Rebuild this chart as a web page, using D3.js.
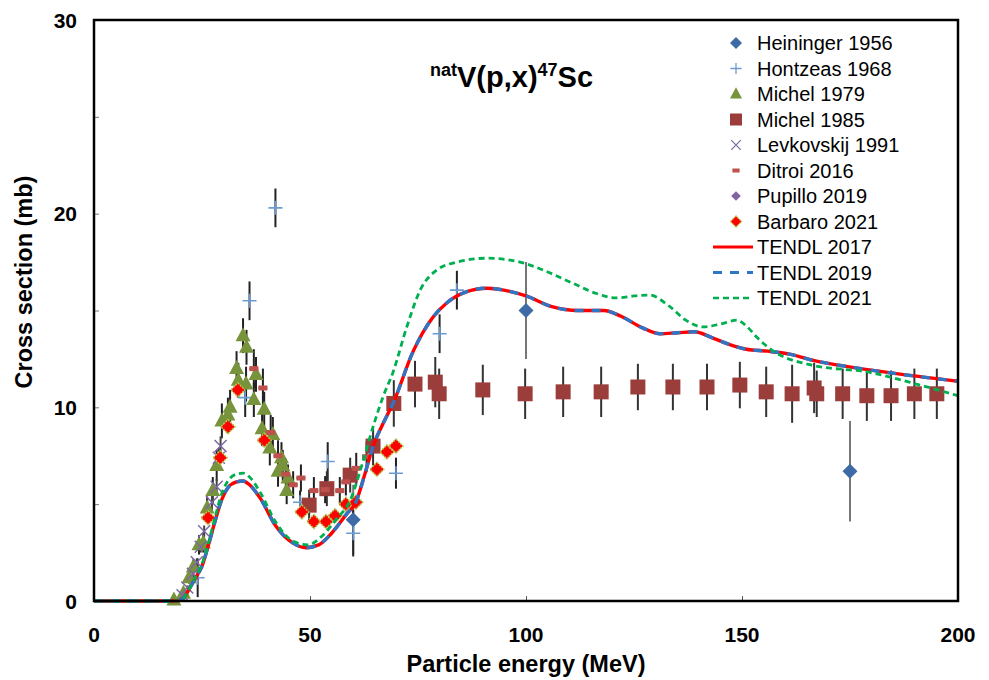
<!DOCTYPE html>
<html>
<head>
<meta charset="utf-8">
<script src="https://cdn.jsdelivr.net/npm/d3@7"></script>
<style>
  body { margin: 0; background: #fff; }
  svg { font-family: "Liberation Sans", Arial, sans-serif; }
</style>
</head>
<body>
<div id="chart"></div>
<script>
// [energy MeV, cross section mb, error mb]
var heininger = [[60, 4.2, 1.8], [100, 15.0, 2.5], [175, 6.7, 2.6]];
var hontzeas = [[24, 1.2, 1.0], [35, 10.5, 1.0], [36, 15.5, 1.0], [42, 20.3, 1.0], [47.7, 5.1, 0.6],
  [54.1, 7.2, 1.0], [60, 3.5, 1.2], [69.9, 6.6, 0.8], [80, 13.8, 1.0], [84, 16.05, 1.0]];
var michel79 = [[18.5, 0.05, 0.1], [20.7, 0.4, 0.2], [22.0, 1.2, 0.3], [23.0, 1.75, 0.4], [24.3, 2.9, 0.5],
  [25.3, 3.0, 0.5], [26.2, 4.8, 0.6], [27.5, 5.7, 0.7], [28.4, 7.0, 0.8], [29.6, 9.3, 0.9],
  [31.0, 9.6, 0.9], [31.5, 10.0, 0.9], [33.0, 12.0, 0.9], [33.4, 11.4, 0.9], [34.5, 13.7, 0.9],
  [35.3, 13.1, 0.9], [35.2, 11.2, 0.9], [37.0, 10.4, 0.9], [37.5, 11.7, 0.9], [38.9, 8.9, 0.9],
  [39.4, 9.9, 0.9], [40.7, 7.9, 0.9], [41.4, 8.6, 0.9], [42.6, 6.7, 0.8], [43.4, 7.4, 0.8],
  [43.7, 7.0, 0.8], [44.6, 5.7, 0.7], [44.9, 6.35, 0.7]];
var michel85 = [[49.8, 4.95, 0.8], [53.9, 5.8, 0.9], [59.3, 6.5, 0.9], [64.6, 8.0, 1.0], [69.4, 10.2, 1.2],
  [74.3, 11.2, 1.2], [79.0, 11.3, 1.3], [79.9, 10.7, 1.3], [90, 10.9, 1.3], [99.8, 10.7, 1.3],
  [108.6, 10.8, 1.3], [117.4, 10.8, 1.3], [125.9, 11.05, 1.2], [134, 11.05, 1.2], [141.9, 11.05, 1.2],
  [149.5, 11.15, 1.2], [155.6, 10.8, 1.3], [161.6, 10.7, 1.5], [166.7, 11.0, 1.3], [167.3, 10.7, 1.2],
  [173.3, 10.7, 1.3], [178.9, 10.6, 1.3], [184.5, 10.6, 1.3], [189.9, 10.7, 1.3], [195.1, 10.7, 1.3]];
var levkovskij = [[20.5, 0.3, 0.1], [21.6, 0.7, 0.1], [22.9, 1.4, 0.2], [23.8, 2.0, 0.2], [24.7, 2.8, 0.3],
  [25.5, 3.6, 0.3], [27.3, 5.1, 0.4], [28.4, 5.9, 0.4], [28.9, 7.4, 0.5], [29.3, 8.0, 0.5]];
var ditroi = [[37.0, 12.0, 1.0], [39.1, 11.0, 1.0], [40.9, 8.7, 0.9], [42.6, 7.5, 0.8], [44.4, 6.55, 0.8],
  [46.1, 6.0, 0.7], [47.9, 6.35, 0.7], [50.9, 5.7, 0.7], [53.5, 5.75, 0.7], [56.9, 5.7, 0.7],
  [58.3, 6.15, 0.7], [60.7, 6.85, 0.8], [63.1, 7.45, 0.8]];
var pupillo = [[33.3, 10.9, 0.4], [48.1, 4.6, 0.3], [53.7, 4.1, 0.3]];
var barbaro = [[26.4, 4.3, 0.3], [29.2, 7.4, 0.3], [31.0, 9.0, 0.3], [33.3, 10.9, 0.4], [39.4, 8.3, 0.3],
  [48.1, 4.6, 0.3], [50.9, 4.1, 0.3], [53.7, 4.1, 0.3], [55.8, 4.4, 0.3], [58.3, 5.0, 0.3],
  [60.6, 5.1, 0.3], [65.5, 6.8, 0.3], [67.8, 7.7, 0.3], [69.9, 8.0, 0.3]];

var tendl17 = [[0, 0], [19, 0], [20.5, 0.1], [22, 0.6], [23.5, 1.2], [25, 1.8], [26.5, 2.9], [28, 4.1],
  [29.5, 5.2], [31, 5.85], [33, 6.15], [34.5, 6.2], [36, 6.0], [38.5, 5.3], [42, 3.9], [46, 3.0],
  [49, 2.75], [52, 2.9], [55, 3.5], [58.5, 4.5], [60.6, 5.1], [62.5, 6.4], [64.6, 8.0], [67, 9.2],
  [69.4, 10.3], [73.8, 12.85], [78.5, 14.66], [81.7, 15.4], [86, 15.95], [91, 16.15], [96, 16.0],
  [100, 15.75], [106, 15.2], [112, 15.0], [118, 15.0], [122, 14.7], [127, 14.1], [131, 13.8],
  [135, 13.85], [139, 13.9], [143, 13.6], [147, 13.25], [151, 13.0], [156, 12.9], [161, 12.75],
  [167, 12.4], [176, 12.05], [187, 11.7], [200, 11.35]];
var tendl19 = tendl17.map(function(d) { return [d[0], d[1]]; });
var tendl21 = [[0, 0], [19, 0], [20.5, 0.1], [22, 0.6], [23.5, 1.25], [25, 1.9], [26.5, 3.0], [28, 4.3],
  [29.5, 5.5], [31, 6.2], [33, 6.55], [34.5, 6.6], [36, 6.4], [38.5, 5.6], [42, 4.1], [46, 3.1],
  [49.5, 2.9], [53, 3.4], [56, 4.2], [59.3, 5.2], [62, 7.0], [64.6, 9.0], [67, 10.6], [69.2, 11.8],
  [72.4, 14.15], [75.5, 16.05], [79.4, 17.1], [84, 17.5], [91, 17.7], [98.6, 17.5], [104.9, 17.0],
  [110.9, 16.4], [116, 15.9], [121, 15.65], [125, 15.75], [128.5, 15.8], [133.3, 15.2], [137, 14.5],
  [141, 14.15], [145, 14.3], [148.8, 14.5], [151, 14.2], [153.5, 13.6], [158, 12.8], [165.7, 12.2],
  [179.6, 11.8], [191.2, 11.15], [200, 10.6]];

var xTicks = [0, 50, 100, 150, 200];
var yTicks = [0, 10, 20, 30];

var W = 989, H = 680;
var margin = { left: 94, right: 31, top: 20, bottom: 79 };

var svg = d3.select("#chart").append("svg").attr("width", W).attr("height", H);

var x = d3.scaleLinear().domain([0, 200]).range([margin.left, W - margin.right]);
var y = d3.scaleLinear().domain([0, 30]).range([H - margin.bottom, margin.top]);

// small ticks inside the frame
var g = svg.append("g");
g.append("g").attr("transform", "translate(0," + y(0) + ")")
  .call(d3.axisBottom(x).tickValues(xTicks).tickSize(-5).tickFormat(""))
  .call(function(a) { a.select(".domain").remove(); a.selectAll("line").attr("stroke", "#555"); });
g.append("g").attr("transform", "translate(" + x(0) + ",0)")
  .call(d3.axisLeft(y).tickValues(d3.range(0, 31, 5)).tickSize(-5).tickFormat(""))
  .call(function(a) { a.select(".domain").remove(); a.selectAll("line").attr("stroke", "#777"); });

// tick labels
svg.selectAll(".xl").data(xTicks).enter().append("text")
  .attr("x", function(d) { return x(d); }).attr("y", y(0) + 41)
  .attr("text-anchor", "middle").attr("font-size", 21).attr("font-weight", "bold").text(function(d) { return d; });
svg.selectAll(".yl").data(yTicks).enter().append("text")
  .attr("x", x(0) - 17).attr("y", function(d) { return y(d) + 7.5; })
  .attr("text-anchor", "end").attr("font-size", 21).attr("font-weight", "bold").text(function(d) { return d; });

svg.append("text").attr("x", x(100)).attr("y", 672).attr("text-anchor", "middle")
  .attr("font-size", 23.5).attr("font-weight", "bold").text("Particle energy (MeV)");
svg.append("text").attr("transform", "translate(32,282) rotate(-90)").attr("text-anchor", "middle")
  .attr("font-size", 23.5).attr("font-weight", "bold").text("Cross section (mb)");

// title
var t = svg.append("text").attr("x", 430).attr("y", 87).attr("font-weight", "bold").attr("font-size", 29);
t.append("tspan").attr("font-size", 18).attr("dy", -11).text("nat");
t.append("tspan").attr("dy", 11).text("V(p,x)");
t.append("tspan").attr("font-size", 18).attr("dy", -11).text("47");
t.append("tspan").attr("dy", 11).text("Sc");

var plot = svg.append("g");

// error bars
function errBars(data, color, hw) {
  plot.append("g").selectAll("line").data(data).enter().append("line")
    .attr("x1", function(d) { return x(d[0]); }).attr("x2", function(d) { return x(d[0]); })
    .attr("y1", function(d) { return y(d[1] - d[2]); }).attr("y2", function(d) { return y(d[1] + d[2]); })
    .attr("stroke", color).attr("stroke-width", 2);
  if (hw) {
    plot.append("g").selectAll("line").data(data).enter().append("line")
      .attr("x1", function(d) { return x(d[0] - hw); }).attr("x2", function(d) { return x(d[0] + hw); })
      .attr("y1", function(d) { return y(d[1]); }).attr("y2", function(d) { return y(d[1]); })
      .attr("stroke", "#222").attr("stroke-width", 2);
  }
}
errBars(heininger, "#777", 0);
errBars(hontzeas, "#222", 0);
errBars(michel79, "#222", 0);
errBars(michel85, "#333", 0);
errBars(levkovskij, "#444", 0);
errBars(ditroi, "#222", 1.0);
errBars(barbaro, "#333", 0);

function markers(data, draw) {
  var sel = plot.append("g").selectAll("g").data(data).enter().append("g")
    .attr("transform", function(d) { return "translate(" + x(d[0]) + "," + y(d[1]) + ")"; });
  draw(sel);
}

var styles = {
  heininger: function(s) { s.append("path").attr("d", "M0,-7.5L7.5,0L0,7.5L-7.5,0Z").attr("fill", "#3E6AA6"); },
  hontzeas: function(s) { s.append("path").attr("d", "M-7,0H7M0,-7V7").attr("stroke", "#6C9BD2").attr("stroke-width", 1.6).attr("fill", "none"); },
  michel79: function(s) { s.append("path").attr("d", "M0,-8.5L7.5,5.5L-7.5,5.5Z").attr("fill", "#77933C"); },
  michel85: function(s) { s.append("rect").attr("x", -7.5).attr("y", -7.5).attr("width", 15).attr("height", 15).attr("fill", "#9B3D3A"); },
  levkovskij: function(s) { s.append("path").attr("d", "M-6,-6L6,6M-6,6L6,-6").attr("stroke", "#7D68A3").attr("stroke-width", 1.5); },
  ditroi: function(s) { s.append("rect").attr("x", -4.5).attr("y", -2.5).attr("width", 9).attr("height", 5).attr("fill", "#C0504D"); },
  pupillo: function(s) { s.append("path").attr("d", "M0,-6L6,0L0,6L-6,0Z").attr("fill", "#8064A2"); },
  barbaro: function(s) { s.append("path").attr("d", "M0,-7L7,0L0,7L-7,0Z").attr("fill", "#FF0000").attr("stroke", "#B5C44A").attr("stroke-width", 1.5).attr("stroke-dasharray", "2,1"); }
};

markers(heininger, styles.heininger);
markers(hontzeas, styles.hontzeas);
markers(michel79, styles.michel79);
markers(michel85, styles.michel85);
markers(levkovskij, styles.levkovskij);
markers(ditroi, styles.ditroi);
markers(pupillo, styles.pupillo);
markers(barbaro, styles.barbaro);

// model curves
var line = d3.line().x(function(d) { return x(d[0]); }).y(function(d) { return y(d[1]); }).curve(d3.curveMonotoneX);
plot.append("path").datum(tendl17).attr("d", line).attr("fill", "none").attr("stroke", "#FF0000").attr("stroke-width", 3.4);
plot.append("path").datum(tendl19).attr("d", line).attr("fill", "none").attr("stroke", "#2E75C6").attr("stroke-width", 3.4).attr("stroke-dasharray", "9,8");
plot.append("path").datum(tendl21).attr("d", line).attr("fill", "none").attr("stroke", "#00B050").attr("stroke-width", 2.8).attr("stroke-dasharray", "6,4");

// frame
svg.append("rect").attr("x", x(0)).attr("y", y(30)).attr("width", x(200) - x(0)).attr("height", y(0) - y(30))
  .attr("fill", "none").attr("stroke", "#000").attr("stroke-width", 2.5);

// legend
var legendItems = [
  { name: "Heininger 1956", mark: styles.heininger },
  { name: "Hontzeas 1968", mark: styles.hontzeas },
  { name: "Michel 1979", mark: styles.michel79 },
  { name: "Michel 1985", mark: styles.michel85 },
  { name: "Levkovskij 1991", mark: styles.levkovskij },
  { name: "Ditroi 2016", mark: styles.ditroi },
  { name: "Pupillo 2019", mark: styles.pupillo },
  { name: "Barbaro 2021", mark: styles.barbaro },
  { name: "TENDL 2017", line: { c: "#FF0000", w: 3.2, d: null } },
  { name: "TENDL 2019", line: { c: "#2E75C6", w: 3.2, d: "9,8" } },
  { name: "TENDL 2021", line: { c: "#00B050", w: 2.6, d: "6,4" } }
];
var lg = svg.append("g").selectAll("g").data(legendItems).enter().append("g")
  .attr("transform", function(d, i) { return "translate(736," + (43 + i * 25.5) + ")"; });
lg.each(function(d) {
  var s = d3.select(this);
  if (d.mark) {
    var m = s.append("g").attr("transform", "scale(0.8)");
    d.mark(m);
  } else {
    s.append("line").attr("x1", -23).attr("x2", 17).attr("stroke", d.line.c).attr("stroke-width", d.line.w)
      .attr("stroke-dasharray", d.line.d);
  }
  s.append("text").attr("x", 21).attr("y", 7).attr("font-size", 20).text(d.name);
});
</script>
</body>
</html>
